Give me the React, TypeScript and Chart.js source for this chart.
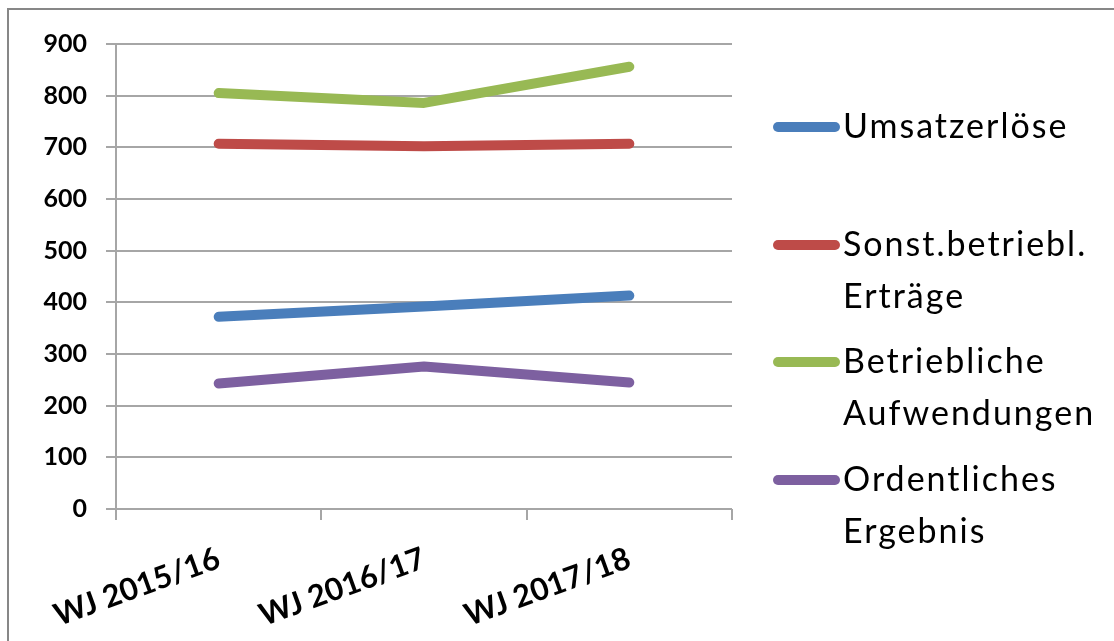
import React, { useEffect, useRef } from "react";
import { Chart, registerables } from "chart.js";

Chart.register(...registerables);

const categories = ["WJ 2015/16", "WJ 2016/17", "WJ 2017/18"];
const seriesNames = ["Umsatzerlöse", "Sonst.betriebl. Erträge", "Betriebliche Aufwendungen", "Ordentliches Ergebnis"];
const legendLines = [["Umsatzerlöse"], ["Sonst.betriebl.", "Erträge"], ["Betriebliche", "Aufwendungen"], ["Ordentliches", "Ergebnis"]];
const umsatzerloese = [372, 392, 413];
const sonstErtraege = [707, 702, 707];
const betrAufwendungen = [805, 786, 856];
const ordErgebnis = [243, 276, 245];
const colors = ["#4a7ebb", "#be4b48", "#98b954", "#7d60a0"];
const yTicks = [0, 100, 200, 300, 400, 500, 600, 700, 800, 900];

const FONT = "Lato, 'Open Sans', sans-serif";

export default function App() {
  const ref = useRef<HTMLCanvasElement | null>(null);
  useEffect(() => {
    if (!ref.current) return;
    const values = [umsatzerloese, sonstErtraege, betrAufwendungen, ordErgebnis];
    const chart = new Chart(ref.current, {
      type: "line",
      data: {
        labels: categories,
        datasets: values.map((v, i) => ({
          label: seriesNames[i],
          data: v,
          borderColor: colors[i],
          backgroundColor: colors[i],
          borderWidth: 10,
          borderCapStyle: "round" as const,
          borderJoinStyle: "round" as const,
          pointRadius: 0,
          tension: 0,
        })),
      },
      options: {
        animation: false,
        responsive: false,
        layout: { padding: { top: 44, right: 382, left: 0, bottom: 0 } },
        plugins: { legend: { display: false }, tooltip: { enabled: false } },
        scales: {
          x: {
            offset: true,
            grid: { offset: true, drawOnChartArea: false, drawTicks: true, tickLength: 11, color: "#a6a6a6", lineWidth: 2 },
            border: { display: false },
            ticks: {
              minRotation: 20,
              maxRotation: 20,
              color: "#000",
              padding: 20,
              font: { family: FONT, size: 31, weight: "bold" },
            },
            afterFit: (s: any) => { s.height = 132; s.paddingLeft = 0; s.paddingRight = 0; },
          },
          y: {
            min: 0,
            max: 900,
            afterBuildTicks: (s: any) => { s.ticks = yTicks.map((v) => ({ value: v })); },
            grid: { color: "#a6a6a6", lineWidth: 2, tickLength: 10 },
            border: { display: true, color: "#a6a6a6", width: 2 },
            ticks: {
              color: "#000",
              padding: 19,
              font: { family: FONT, size: 25, weight: "bold" },
            },
            afterFit: (s: any) => { s.width = 116; },
          },
        },
      },
    });
    return () => chart.destroy();
  }, []);

  const entryTops = [127, 245, 362, 480];
  return (
    <div style={{ position: "absolute", left: 0, top: 0, width: 1114, height: 641, background: "#fff", overflow: "hidden" }}>
      <div style={{ position: "absolute", left: 7, top: 8, width: 1200, height: 700, borderTop: "2px solid #878787", borderLeft: "2px solid #878787" }} />
      <canvas ref={ref} width={1114} height={641} style={{ position: "absolute", left: 0, top: 0, width: 1114, height: 641 }} />
      {legendLines.map((lines, i) => (
        <div key={i}>
          <div style={{ position: "absolute", left: 773, top: entryTops[i] - 5, width: 67, height: 10, borderRadius: 5, background: colors[i] }} />
          {lines.map((t, j) => (
            <div key={j} style={{ position: "absolute", left: 843, top: entryTops[i] + 11 - 39 + j * 51.5, height: 52, lineHeight: "52px", fontFamily: FONT, fontSize: 34, letterSpacing: 2, color: "#000", whiteSpace: "nowrap" }}>{t}</div>
          ))}
        </div>
      ))}
    </div>
  );
}
